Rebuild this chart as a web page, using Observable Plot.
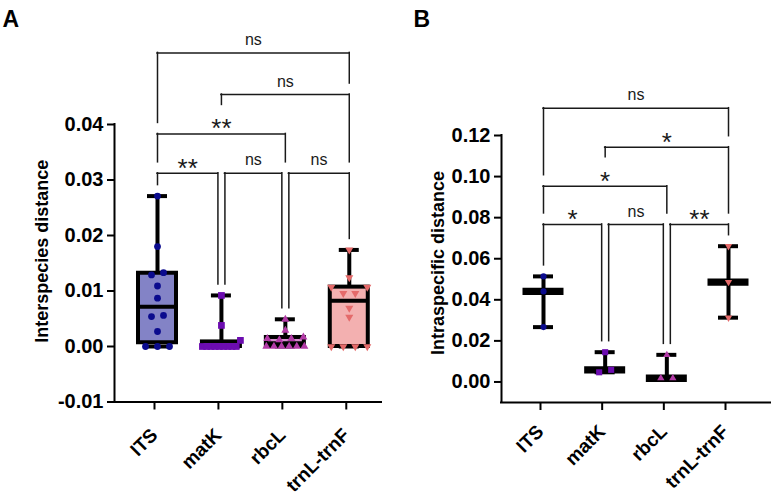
<!DOCTYPE html>
<html><head><meta charset="utf-8">
<script src="https://cdn.jsdelivr.net/npm/d3@7"></script>
<script src="https://cdn.jsdelivr.net/npm/@observablehq/plot@0.6"></script>
<style>
html,body{margin:0;padding:0;background:#fff;}
#chart{position:relative;width:775px;height:496px;overflow:hidden;background:#fff;}
#chart svg{position:absolute;top:0;overflow:visible;}
</style></head><body><div id="chart"></div>
<script>
// ---------- data ----------
const categories = ["ITS", "matK", "rbcL", "trnL-trnF"];
// Panel A: interspecies distance, individual values per marker
const interITS  = [0.0271, 0.0180, 0.0133, 0.0129, 0.0109, 0.0087, 0.0056, 0.0054, 0.0027, 0, 0, 0];
const interMatK = [0.0092, 0.0038, 0.0011, 0, 0, 0, 0, 0, 0, 0, 0, 0];
const interRbcL = [0.0049, 0.0029, 0.0017, 0.0014, 0.0014, 0.0012, 0, 0, 0, 0, 0, 0];
const interTrnL = [0.0174, 0.0124, 0.0107, 0.0107, 0.0096, 0.0096, 0.0069, 0.0053, 0, 0, 0, 0];
// Panel B: intraspecific distance
const intraITS  = [0.0514, 0.0441, 0.0267];
const intraMatK = [0.0145, 0.0059, 0.0047];
const intraRbcL = [0.0132, 0.0018, 0.0018];
const intraTrnL = [0.0661, 0.0486, 0.0313];
// axes
const yTicksA = [-0.01, 0, 0.01, 0.02, 0.03, 0.04];
const yTicksB = [0, 0.02, 0.04, 0.06, 0.08, 0.10, 0.12];
// significance comparisons
const compPairs = [["ITS","matK"],["matK","rbcL"],["rbcL","trnL-trnF"],["ITS","rbcL"],["matK","trnL-trnF"],["ITS","trnL-trnF"]];
const compLabelsA = ["**", "ns", "ns", "**", "ns", "ns"];
const compLevelsA = [0.0312, 0.0312, 0.0312, 0.0383, 0.0454, 0.0529];
const compLabelsB = ["*", "ns", "**", "*", "*", "ns"];
const compLevelsB = [0.0767, 0.0767, 0.0767, 0.0953, 0.1143, 0.1333];

// ---------- styles ----------
const FONT = "Liberation Sans, Arial, Helvetica, sans-serif";
const H = 496;
const boxFill = ["#8383c6", "#a57ad2", "#d58ccd", "#f3b0b0"];
const pointColor = ["#0b0b8e", "#6c0cb0", "#b23aa6", "#e46a6a"];
const sqrt3 = Math.sqrt(3);
const triangleDown = {draw(ctx, size) {
  const y = -Math.sqrt(size / (sqrt3 * 3));
  ctx.moveTo(0, -y * 2); ctx.lineTo(-sqrt3 * y, y); ctx.lineTo(sqrt3 * y, y); ctx.closePath();
}};
const symbols = ["circle", "square", "triangle", triangleDown];
const symbolR = [3.4, 3.8, 3.0, 3.0];

function prismQuantile(asc, p) {
  const n = asc.length, pos = (n + 1) * p;
  if (pos <= 1) return asc[0];
  if (pos >= n) return asc[n - 1];
  const lo = Math.floor(pos), f = pos - lo;
  return asc[lo - 1] + f * (asc[lo] - asc[lo - 1]);
}
// horizontal spreading of overlapping markers (computed, Prism-like)
function spread(values, yPx) {
  const idx = values.map((v, k) => k).sort((a, b) => values[b] - values[a]);
  const offs = new Array(values.length).fill(0);
  let cluster = [];
  const flush = () => {
    const k = cluster.length;
    if (k > 1) {
      const s = Math.min(12, 38 / (k - 1));
      const pos = d3.range(k).map(j => (j - (k - 1) / 2) * s);
      const order = [];
      let lo = 0, hi = k - 1;
      while (lo <= hi) { order.push(pos[hi--]); if (lo <= hi) order.push(pos[lo++]); }
      cluster.forEach((id, j) => offs[id] = order[j]);
    }
    cluster = [];
  };
  idx.forEach(id => {
    if (cluster.length && Math.abs(yPx(values[id]) - yPx(values[cluster[cluster.length - 1]])) > 6.5) flush();
    cluster.push(id);
  });
  flush();
  return offs;
}

function makePanel(cfg) {
  const X = Plot.scale({x: {domain: cfg.xDomain, range: [cfg.marginLeft, cfg.width - cfg.marginRight]}});
  const Y = Plot.scale({y: {domain: cfg.yDomain, range: [H - cfg.marginBottom, cfg.marginTop]}});
  const xu = (i, px) => X.invert(X.apply(i) + px);
  const yPx = v => Y.apply(v);
  const stats = cfg.series.map((vals, i) => {
    const asc = [...vals].sort((a, b) => a - b);
    return {i, min: asc[0], max: asc[asc.length - 1], q1: prismQuantile(asc, 0.25), med: prismQuantile(asc, 0.5), q3: prismQuantile(asc, 0.75)};
  });
  const points = cfg.series.map((vals, i) => {
    const offs = spread(vals, yPx);
    return vals.map((v, k) => ({i, v, x: xu(i, offs[k])}));
  });
  // brackets
  const br = compPairs.map(([a, b], k) => ({a: categories.indexOf(a), b: categories.indexOf(b), label: cfg.labels[k], level: cfg.levels[k]}));
  br.forEach(d => {
    const same = br.filter(e => e !== d && e.level === d.level);
    d.xa = X.apply(d.a) + (same.some(e => e.b === d.a) ? 3.5 : 0);
    d.xb = X.apply(d.b) - (same.some(e => e.a === d.b) ? 3.5 : 0);
    d.xm = (d.xa + d.xb) / 2;
    d.ly = yPx(d.level);
  });
  const legEnd = (d, g, xpx) => {
    let top = yPx(stats[g].max);
    for (const e of br) {
      if (e.level >= d.level) continue;
      if (xpx >= e.xa - 5 && xpx <= e.xb + 5) top = Math.min(top, e.ly);
      if (Math.abs(xpx - e.xm) < 12) top = Math.min(top, e.ly - 18);
    }
    return Y.invert(top - 11);
  };
  const lines = br.map(d => ({x1: X.invert(d.xa), x2: X.invert(d.xb), y: d.level}));
  const legs = br.flatMap(d => [
    {x: X.invert(d.xa), y1: d.level, y2: legEnd(d, d.a, d.xa)},
    {x: X.invert(d.xb), y1: d.level, y2: legEnd(d, d.b, d.xb)}
  ]);
  const labels = br.map(d => ({x: X.invert(d.xm), y: d.level, label: d.label}));
  const lineStyle = {stroke: "#1a1a1a", strokeWidth: 1.5, strokeLinecap: "square"};

  const dataMarks = [];
  dataMarks.push(Plot.ruleX(stats, {x: "i", y1: "min", y2: "max", stroke: "#000", strokeWidth: 4}));
  if (cfg.kind === "box") {
    dataMarks.push(Plot.rect(stats, {x1: d => xu(d.i, -19), x2: d => xu(d.i, 19), y1: "q1", y2: "q3", fill: d => boxFill[d.i], stroke: "#000", strokeWidth: 4}));
    dataMarks.push(Plot.ruleY(stats, {y: "med", x1: d => xu(d.i, -19), x2: d => xu(d.i, 19), stroke: "#000", strokeWidth: 4}));
  }
  dataMarks.push(Plot.ruleY(stats, {y: "max", x1: d => xu(d.i, -10), x2: d => xu(d.i, 10), stroke: "#000", strokeWidth: 4}));
  dataMarks.push(Plot.ruleY(stats, {y: "min", x1: d => xu(d.i, -10), x2: d => xu(d.i, 10), stroke: "#000", strokeWidth: 4}));
  if (cfg.kind === "range") {
    dataMarks.push(Plot.ruleY(stats, {y: "med", x1: d => xu(d.i, -20.5), x2: d => xu(d.i, 20.5), stroke: "#000", strokeWidth: 7.3}));
  }
  points.forEach((pts, i) => {
    dataMarks.push(Plot.dot(pts, {x: "x", y: "v", symbol: symbols[i], r: symbolR[i] * cfg.rScale, fill: pointColor[i], stroke: "none"}));
  });

  return Plot.plot({
    width: cfg.width, height: H,
    marginLeft: cfg.marginLeft, marginRight: cfg.marginRight, marginTop: cfg.marginTop, marginBottom: cfg.marginBottom,
    x: {domain: cfg.xDomain},
    y: {domain: cfg.yDomain},
    style: {fontFamily: FONT, background: "transparent", overflow: "visible", color: "#000"},
    marks: [
      Plot.axisY({ticks: cfg.yTicks, tickFormat: d => d.toFixed(2), tickSize: 7, tickPadding: 4, fontSize: 20, fontWeight: "bold", strokeWidth: 2, label: null}),
      Plot.axisX({ticks: [0, 1, 2, 3], tickFormat: i => categories[i], tickRotate: -45, tickSize: 8, tickPadding: cfg.xPad, dx: -3, fontSize: 19, fontWeight: "bold", strokeWidth: 2, label: null}),
      Plot.ruleX([cfg.xDomain[0]], {y1: cfg.yDomain[0], y2: cfg.yTicks[cfg.yTicks.length - 1], stroke: "#000", strokeWidth: 2, strokeLinecap: "square"}),
      Plot.ruleY([cfg.yDomain[0]], {stroke: "#000", strokeWidth: 2, strokeLinecap: "square"}),
      ...dataMarks,
      Plot.ruleY(lines, {y: "y", x1: "x1", x2: "x2", ...lineStyle}),
      Plot.ruleX(legs, {x: "x", y1: "y1", y2: "y2", ...lineStyle}),
      Plot.text(labels.filter(d => d.label === "ns"), {x: "x", y: "y", text: "label", fontSize: 16, dy: -13, fill: "#1a1a1a"}),
      Plot.text(labels.filter(d => d.label !== "ns"), {x: "x", y: "y", text: "label", fontSize: 26, dy: -5, fill: "#1a1a1a"}),
      Plot.text([cfg.letter], {frameAnchor: "top-left", textAnchor: "start", lineAnchor: "top", dx: cfg.letterDx, dy: cfg.letterDy, fontSize: 23, fontWeight: "bold"}),
      Plot.text([cfg.title], {frameAnchor: "left", textAnchor: "middle", lineAnchor: "middle", rotate: -90, dx: cfg.titleDx, dy: cfg.titleDy, fontSize: 18, fontWeight: "bold"})
    ]
  });
}

const panelA = makePanel({
  width: 390, marginLeft: 114, marginRight: 9, marginTop: 124, marginBottom: 94.5,
  xDomain: [-0.6726, 3.504], yDomain: [-0.01, 0.04], yTicks: yTicksA, xPad: 22,
  series: [interITS, interMatK, interRbcL, interTrnL], kind: "box", rScale: 1,
  labels: compLabelsA, levels: compLevelsA,
  letter: "A", letterDx: -112, letterDy: -114,
  title: "Interspecies distance", titleDx: -72, titleDy: -12
});
const panelB = makePanel({
  width: 385, marginLeft: 111, marginRight: 5, marginTop: 135, marginBottom: 94,
  xDomain: [-0.681, 3.681], yDomain: [-0.01, 0.12], yTicks: yTicksB, xPad: 18,
  series: [intraITS, intraMatK, intraRbcL, intraTrnL], kind: "range", rScale: 0.9,
  labels: compLabelsB, levels: compLevelsB,
  letter: "B", letterDx: -88, letterDy: -125,
  title: "Intraspecific distance", titleDx: -63.5, titleDy: -6
});
panelA.style.left = "0px";
panelB.style.left = "390px";
const chart = document.getElementById("chart");
chart.appendChild(panelA);
chart.appendChild(panelB);
</script></body></html>
